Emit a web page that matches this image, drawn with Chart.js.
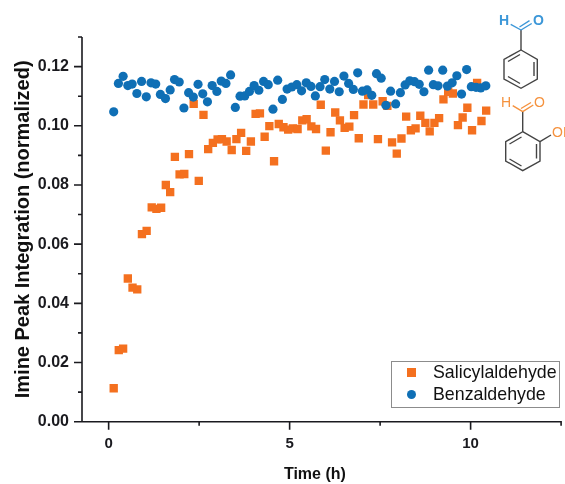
<!DOCTYPE html>
<html>
<head>
<meta charset="utf-8">
<script src="https://cdn.jsdelivr.net/npm/chart.js@4/dist/chart.umd.js"></script>
<style>
  html, body { margin: 0; padding: 0; background: #fff; overflow: hidden; }
  #wrap { position: relative; width: 565px; height: 484px; overflow: hidden; font-family: "Liberation Sans", Arial, sans-serif; }
  #chart { position: absolute; left: 0; top: 0; }
  #legend { position: absolute; left: 391px; top: 361px; width: 169px; height: 47px; border: 1px solid #8c8c8c; box-sizing: border-box; font-size: 17.8px; line-height: 21px; color: #111; }
  .row { position: absolute; left: 41px; white-space: nowrap; }
  .sw { position: absolute; left: -26px; top: 6px; width: 9px; height: 9px; }
  #mol { position: absolute; left: 0; top: 0; }
</style>
</head>
<body>
<div id="wrap">
  <!-- 2px wider than the window: the library keeps a right margin we can't set to the reference's -->
  <canvas id="chart" width="567" height="484"></canvas>
  <div id="legend">
    <div class="row" style="top:0px"><span class="sw" style="background:#f4701f"></span>Salicylaldehyde</div>
    <div class="row" style="top:22px"><span class="sw" style="background:#0f6fb5;border-radius:50%"></span>Benzaldehyde</div>
  </div>
  <svg id="mol" width="565" height="484" font-family="Liberation Sans, Arial, sans-serif" font-size="14" font-weight="bold">
    <g fill="none" stroke="#444" stroke-width="1.4">
      <path d="M521 50 L537.3 59.3 L537.3 79 L521 88.3 L504 79 L504 59.3 Z"/>
      <path d="M534 62 L534 76 M520 83.5 L508 76.5 M508 61.5 L520 54.5"/>
      <path d="M521 50 L521 30"/>
      <path d="M522.7 131.7 L540 141.7 L540 161 L522.7 170.7 L505.7 161 L505.7 141.7 Z"/>
      <path d="M536.5 144 L536.5 158.5 M521.5 166 L509.5 159 M509.5 144 L521.5 137"/>
      <path d="M522.7 131.7 L522.7 111.7"/>
      <path d="M540 141.7 L551 135"/>
    </g>
    <g fill="none" stroke="#3c97d8" stroke-width="1.4">
      <path d="M521 30 L510.7 24.3 M521 30 L531.7 23.5 M519.5 27 L529.5 20.7"/>
    </g>
    <g fill="none" stroke="#f5923e" stroke-width="1.4">
      <path d="M522.7 111.7 L512.7 105.7 M522.7 111.7 L533.3 105 M521 108.5 L531 102.5"/>
    </g>
    <text x="499" y="25" fill="#3c97d8">H</text>
    <text x="533" y="25" fill="#3c97d8">O</text>
    <text x="501" y="107" fill="#f5923e" font-weight="normal">H</text>
    <text x="534" y="107" fill="#f5923e" font-weight="normal">O</text>
    <text x="552" y="137" fill="#f5923e" font-weight="normal">OH</text>
  </svg>
</div>
<script>
// values
const salicylTime = [0.14,0.28,0.40,0.53,0.66,0.79,0.92,1.05,1.19,1.32,1.45,1.58,1.70,1.83,1.96,2.09,2.22,2.35,2.49,2.62,2.75,2.88,3.01,3.13,3.26,3.40,3.53,3.66,3.80,3.93,4.06,4.18,4.31,4.44,4.57,4.70,4.83,4.96,5.09,5.22,5.35,5.47,5.60,5.73,5.86,6.00,6.13,6.26,6.39,6.52,6.65,6.78,6.91,7.04,7.17,7.31,7.44,7.57,7.70,7.83,7.96,8.09,8.22,8.35,8.48,8.61,8.75,8.87,9.00,9.13,9.25,9.38,9.51,9.65,9.78,9.91,10.04,10.18,10.30,10.43];
const salicylValues = [0.0113,0.0242,0.0247,0.0484,0.0453,0.0447,0.0634,0.0645,0.0724,0.0719,0.0723,0.0800,0.0776,0.0895,0.0836,0.0837,0.0904,0.1074,0.0814,0.1037,0.0921,0.0942,0.0954,0.0955,0.0947,0.0918,0.0955,0.0976,0.0915,0.0947,0.1040,0.1042,0.0963,0.0999,0.0880,0.1006,0.0995,0.0987,0.0991,0.0989,0.1018,0.1022,0.0998,0.0989,0.1071,0.0916,0.0978,0.1045,0.1018,0.0993,0.0997,0.1036,0.0958,0.1072,0.1104,0.1072,0.0955,0.1083,0.1067,0.0944,0.0906,0.0957,0.1031,0.0985,0.0991,0.1034,0.1010,0.0981,0.1010,0.1026,0.1089,0.1115,0.1109,0.1002,0.1028,0.1061,0.0985,0.1145,0.1016,0.1051];
const benzTime = [0.14,0.27,0.40,0.53,0.65,0.78,0.91,1.04,1.17,1.30,1.43,1.57,1.70,1.82,1.95,2.08,2.21,2.34,2.47,2.60,2.73,2.86,2.99,3.11,3.24,3.37,3.50,3.63,3.76,3.89,4.02,4.15,4.28,4.41,4.54,4.67,4.80,4.93,5.06,5.20,5.33,5.46,5.59,5.71,5.84,5.97,6.11,6.24,6.37,6.50,6.63,6.76,6.88,7.01,7.14,7.27,7.40,7.53,7.66,7.79,7.93,8.06,8.19,8.32,8.45,8.58,8.71,8.84,8.97,9.10,9.23,9.36,9.49,9.62,9.75,9.89,10.02,10.15,10.28,10.42];
const benzValues = [0.1047,0.1143,0.1167,0.1136,0.1141,0.1109,0.1150,0.1098,0.1145,0.1141,0.1106,0.1092,0.1121,0.1156,0.1148,0.1060,0.1112,0.1097,0.1140,0.1108,0.1081,0.1136,0.1116,0.1151,0.1143,0.1172,0.1062,0.1100,0.1101,0.1116,0.1136,0.1120,0.1150,0.1139,0.1056,0.1154,0.1089,0.1124,0.1131,0.1139,0.1118,0.1145,0.1133,0.1101,0.1132,0.1156,0.1124,0.1150,0.1115,0.1168,0.1143,0.1123,0.1179,0.1117,0.1121,0.1103,0.1176,0.1161,0.1069,0.1117,0.1074,0.1112,0.1138,0.1152,0.1149,0.1140,0.1115,0.1188,0.1139,0.1135,0.1188,0.1134,0.1145,0.1169,0.1107,0.1190,0.1132,0.1130,0.1128,0.1135];
const xTicks = [0,2.5,5,7.5,10,12.5];
const xLabels = [0,5,10];
const yTicks = [0,0.01,0.02,0.03,0.04,0.05,0.06,0.07,0.08,0.09,0.10,0.11,0.12,0.13];
const yLabels = [0,0.02,0.04,0.06,0.08,0.10,0.12];

const toPoints = (xs, ys) => xs.map((x, i) => ({ x: x, y: ys[i] }));
const inkColor = '#1a1a1f';

// axis lines and outward tick marks, major ones are longer
const axisMarks = {
  id: 'axisMarks',
  afterDraw(chart) {
    const { ctx, chartArea: a, scales } = chart;
    ctx.save();
    ctx.strokeStyle = inkColor;
    ctx.lineWidth = 1.6;
    ctx.beginPath();
    ctx.moveTo(a.left, a.top); ctx.lineTo(a.left, a.bottom + 0.8);
    ctx.moveTo(a.left - 8, a.bottom); ctx.lineTo(a.right + 0.8, a.bottom);
    xTicks.forEach(v => {
      const px = scales.x.getPixelForValue(v);
      ctx.moveTo(px, a.bottom);
      ctx.lineTo(px, a.bottom + (xLabels.includes(v) ? 8 : 4));
    });
    yTicks.forEach(v => {
      const py = scales.y.getPixelForValue(v);
      ctx.moveTo(a.left, py);
      ctx.lineTo(a.left - (yLabels.includes(v) ? 8 : 4), py);
    });
    ctx.stroke();
    ctx.restore();
  }
};

new Chart(document.getElementById('chart'), {
  type: 'scatter',
  data: {
    datasets: [
      { label: 'Benzaldehyde', data: toPoints(benzTime, benzValues), order: 0, pointStyle: 'circle', pointRadius: 4.6, backgroundColor: '#0f6fb5', borderWidth: 0 },
      { label: 'Salicylaldehyde', data: toPoints(salicylTime, salicylValues), order: 1, pointStyle: 'rect', pointRadius: 5.9, backgroundColor: '#f4701f', borderWidth: 0 }
    ]
  },
  plugins: [axisMarks],
  options: {
    responsive: false,
    animation: false,
    layout: { padding: { top: 37, right: 2, left: 0, bottom: 0 } },
    plugins: { legend: { display: false }, tooltip: { enabled: false } },
    scales: {
      x: {
        type: 'linear', min: -0.736, max: 12.5,
        afterBuildTicks: s => { s.ticks = xTicks.map(v => ({ value: v })); },
        afterFit: s => { s.height = 62.3; s.paddingRight = 0; s.paddingLeft = 0; },
        grid: { display: false },
        border: { display: false },
        ticks: {
          autoSkip: false, maxRotation: 0, padding: 5,
          color: inkColor, font: { family: 'Liberation Sans', size: 15, weight: 'bold' },
          callback: v => xLabels.includes(v) ? String(v) : ''
        },
        // the trailing spaces pull the centred title left, as in the reference
        title: { display: true, text: 'Time (h)\u00a0\u00a0\u00a0', color: '#111', padding: { top: 4, bottom: 0 }, font: { family: 'Liberation Sans', size: 16, weight: 'bold' } }
      },
      y: {
        type: 'linear', min: 0, max: 0.13,
        afterBuildTicks: s => { s.ticks = yTicks.map(v => ({ value: v })); },
        afterFit: s => { s.width = 82; },
        grid: { display: false },
        border: { display: false },
        ticks: {
          autoSkip: false, padding: 5,
          color: inkColor, font: { family: 'Liberation Sans', size: 16, weight: 'bold' },
          callback: v => yLabels.some(l => Math.abs(l - v) < 1e-6) ? v.toFixed(2) : ''
        },
        title: { display: true, text: 'Imine Peak Integration (normalized)', color: '#111', padding: { top: 11, bottom: 0 }, font: { family: 'Liberation Sans', size: 20, weight: 'bold' } }
      }
    }
  }
});
</script>
</body>
</html>
